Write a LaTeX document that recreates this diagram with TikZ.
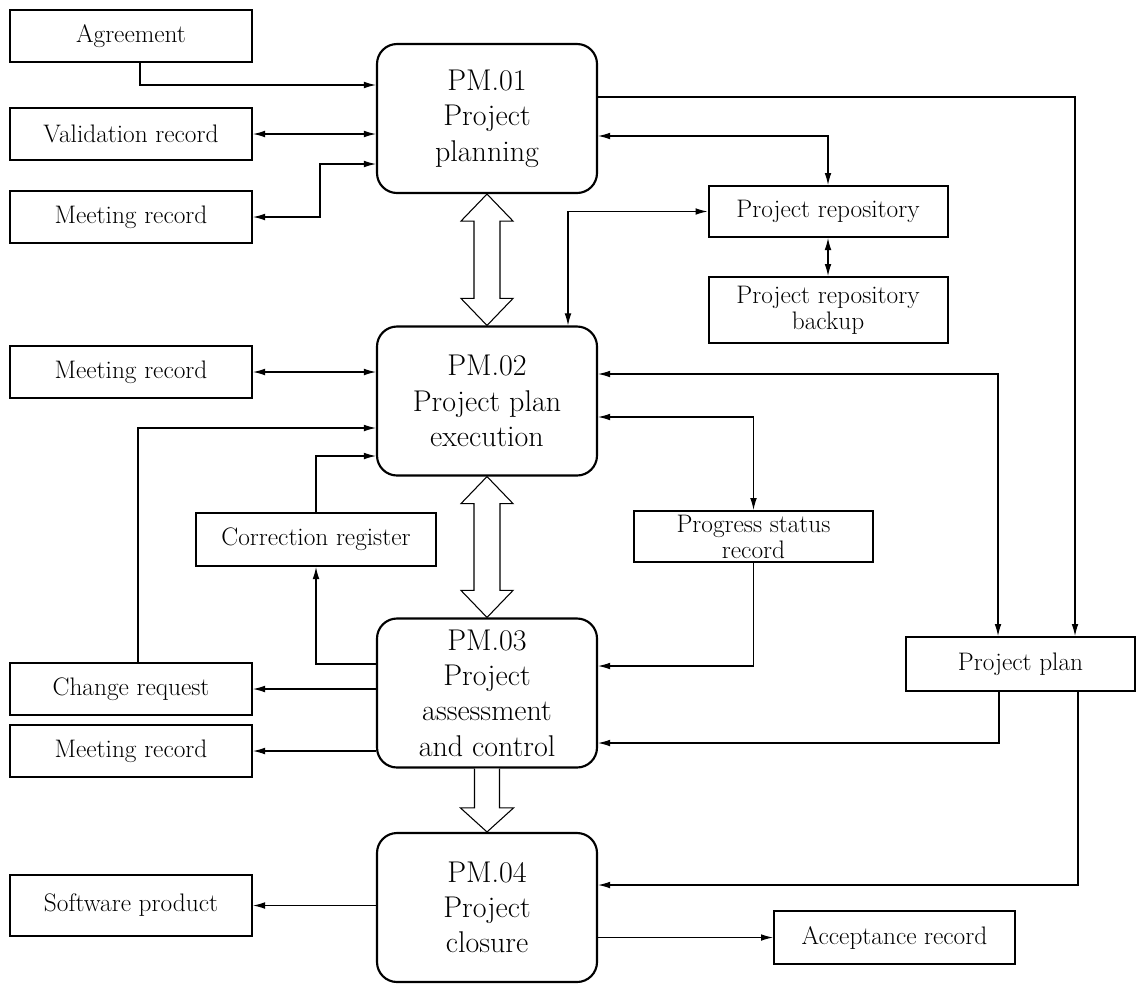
\documentclass[tikz,border=0pt]{standalone}
\usepackage{fontspec}
\usepackage{tikz}
\usetikzlibrary{positioning, calc, arrows.meta}
\tikzstyle{chart} = [x = .75pt, y = -.75pt]
\tikzstyle{dataBoxStyle} = [draw, line width = 1.5pt, inner sep = 0pt, align = center, minimum width = 181.5pt, minimum height = 39pt, font = \fontsize{19}{19.5}\selectfont]
\tikzstyle{processStyle} = [draw, line width = 1.6pt, rounded corners = 15pt, inner sep = 0pt, align = center, minimum width = 165pt, minimum height = 111.75pt, font = \fontsize{22.5}{26.5}\selectfont]
\tikzstyle{flowLine} = [line width = .8pt, -{Latex[length = 9pt, width = 5pt]}]
\tikzstyle{flowBoth} = [line width = .8pt, {Latex[length = 9pt, width = 5pt]}-{Latex[length = 9pt, width = 5pt]}]
\tikzstyle{hollowArrow} = [line width = .8pt, fill = white]
\newcommand{\dataBox}[5][]{\node [dataBoxStyle, #1] (#2) at (#3, #4) {#5};}
\newcommand{\processBox}[4]{\node [processStyle] (#1) at (#2, #3) {#4};}
\newcommand{\hollowDouble}[2]{
  \draw [hollowArrow] (#1.south) -- ++(26, 27) -- ++(-13, 0) -- ($(#2.north) + (13, -27)$) -- ++(13, 0)
    -- (#2.north) -- ++(-26, -27) -- ++(13, 0) -- ($(#1.south) + (-13, 27)$) -- ++(-13, 0) -- cycle;
}
\newcommand{\hollowSingle}[2]{
  \draw [hollowArrow] ($(#1.south) + (-12.5, 0)$) -- ($(#2.north) + (-12.5, -24)$) -- ++(-14, 0)
    -- (#2.north) -- ++(26.5, -24) -- ++(-14, 0) -- ($(#1.south) + (12.5, 0)$);
}

\begin{document}
\begin{tikzpicture}[chart]
  \useasboundingbox (0, 0) rectangle (1137, 983);

  % processes
  \processBox{pmOne}{487}{118.5}{PM.01\\Project\\planning}
  \processBox{pmTwo}{487}{401}{PM.02\\Project plan\\execution}
  \processBox{pmThree}{487}{693}{PM.03\\Project\\assessment\\and control}
  \processBox{pmFour}{487}{907.5}{PM.04\\Project\\closure}

  % records
  \dataBox{agree}{131}{36}{Agreement}
  \dataBox{valid}{131}{134}{Validation record}
  \dataBox{meetA}{131}{217}{Meeting record}
  \dataBox[minimum width = 179.25pt, minimum height = 38.25pt]{repo}{828}{211.5}{Project repository}
  \dataBox[minimum width = 179.25pt, minimum height = 49.5pt]{backup}{828}{310}{Project repository\\backup}
  \dataBox{meetB}{131}{372}{Meeting record}
  \dataBox[minimum width = 180pt, minimum height = 39.75pt]{corr}{316}{539.5}{Correction register}
  \dataBox[minimum width = 179.25pt, minimum height = 38.25pt]{prog}{753.5}{536.5}{Progress status\\record}
  \dataBox{change}{131}{689}{Change request}
  \dataBox{meetC}{131}{751}{Meeting record}
  \dataBox[minimum width = 171.75pt, minimum height = 40.5pt]{plan}{1020.5}{664}{Project plan}
  \dataBox[minimum height = 45.75pt]{soft}{131}{905.5}{Software product}
  \dataBox[minimum width = 180.75pt, minimum height = 39.75pt]{accept}{894.5}{937.5}{Acceptance record}

  % hollow arrows between processes
  \hollowDouble{pmOne}{pmTwo}
  \hollowDouble{pmTwo}{pmThree}
  \hollowSingle{pmThree}{pmFour}

  % PM.01
  \draw [flowLine] (agree.south -| 140,0) |- (pmOne.west |- 0,85);
  \draw [flowBoth] (valid.east) -- (valid.east -| pmOne.west);
  \draw [flowBoth] (meetA.east) -- ++(67, 0) |- (pmOne.west |- 0,164);
  \draw [flowLine] (pmOne.east |- 0,97) -| (plan.north -| 1075,0);
  \draw [flowBoth] (pmOne.east |- 0,136) -| (repo.north);
  \draw [flowBoth] (repo.west) -| (pmTwo.north -| 568,0);
  \draw [flowBoth] (repo.south) -- (backup.north);

  % PM.02
  \draw [flowBoth] (meetB.east) -- (meetB.east -| pmTwo.west);
  \draw [flowLine] (change.north -| 138,0) |- (pmTwo.west |- 0,428);
  \draw [flowLine] (corr.north) |- (pmTwo.west |- 0,456);
  \draw [flowBoth] (pmTwo.east |- 0,374) -| (plan.north -| 998,0);
  \draw [flowBoth] (pmTwo.east |- 0,417) -| (prog.north);

  % PM.03
  \draw [flowLine] (pmThree.west |- 0,664) -| (corr.south);
  \draw [flowLine] (pmThree.west |- change.east) -- (change.east);
  \draw [flowLine] (pmThree.west |- meetC.east) -- (meetC.east);
  \draw [flowLine] (prog.south) |- (pmThree.east |- 0,666);
  \draw [flowLine] (plan.south -| 999,0) |- (pmThree.east |- 0,743);

  % PM.04
  \draw [flowLine] (plan.south -| 1078,0) |- (pmFour.east |- 0,885);
  \draw [flowLine] (pmFour.west |- soft.east) -- (soft.east);
  \draw [flowLine] (pmFour.east |- accept.west) -- (accept.west);
\end{tikzpicture}
\end{document}
